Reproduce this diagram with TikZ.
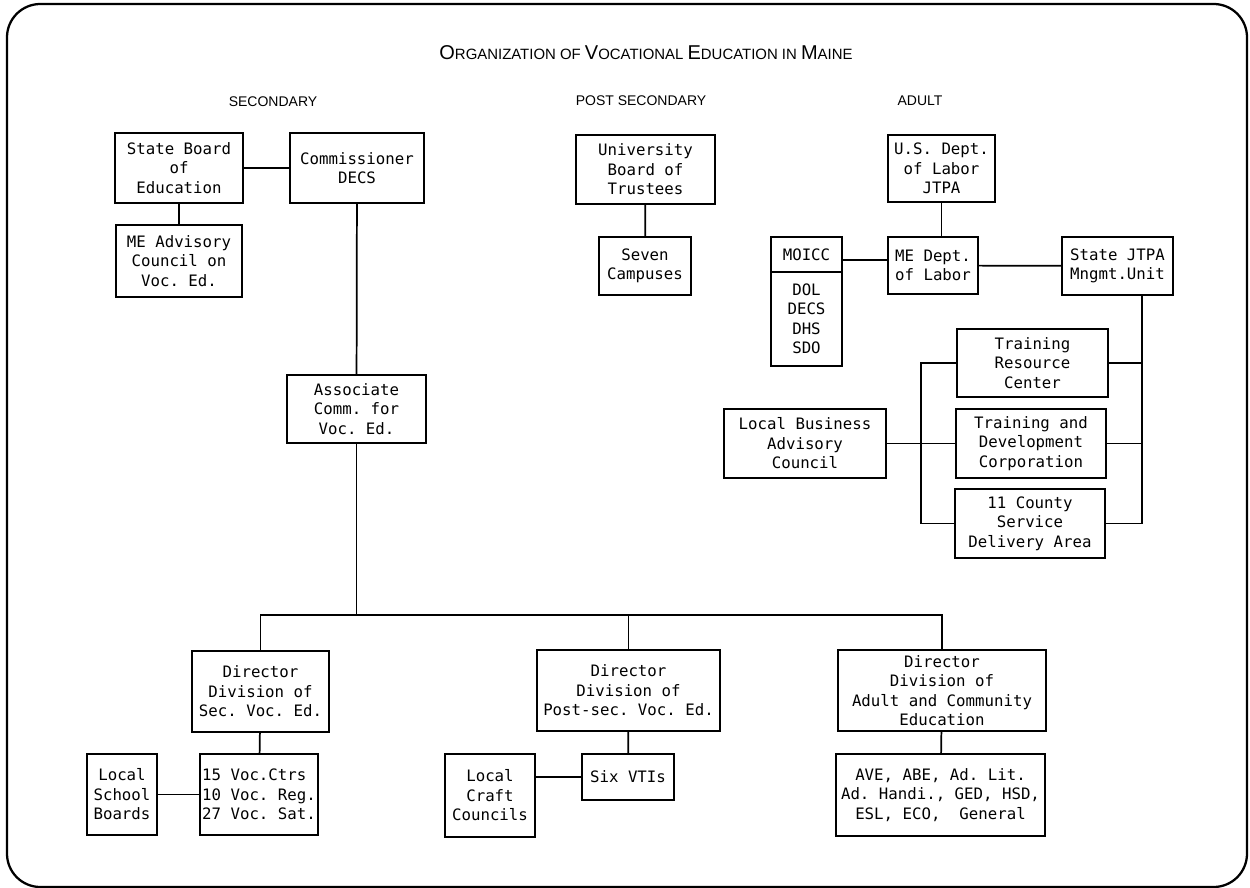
\documentclass[tikz,border=0pt]{standalone}
\usepackage{fontspec}
\setmonofont{DejaVu Sans Mono}
\newfontfamily\headfont{Liberation Sans}
\newcommand{\smc}[1]{{\fontsize{11.2}{12}\selectfont #1}}

\begin{document}
\begin{tikzpicture}[x=0.75pt,y=-0.75pt,
    box/.style={draw,line width=1.3pt,align=center,inner sep=0pt,
      font=\ttfamily\fontsize{11.8}{14.6}\selectfont},
    sz/.style 2 args={minimum width=#1*0.75pt,minimum height=#2*0.75pt},
    link/.style={line width=1.3pt},
    head/.style={font=\headfont\fontsize{10.5}{12}\selectfont}]
            \useasboundingbox (0,0) rectangle (1250,888);
            \draw[line width=1.7pt,rounded corners=25pt] (7,4) rectangle (1247,887);

            % Headings
            \node[head,font=\headfont\fontsize{15}{16}\selectfont] (title) at (646,53)
                {O\smc{RGANIZATION OF }V\smc{OCATIONAL }E\smc{DUCATION IN }M\smc{AINE}};
            \node[head] (hsec)   at (273,102) {SECONDARY};
            \node[head] (hpost)  at (641,101) {POST SECONDARY};
            \node[head] (hadult) at (920,101) {ADULT};

            % Secondary
            \node[box,sz={128}{70}]  (sbe) at (179,168)   {State Board\\of\\Education};
            \node[box,sz={134}{70}]  (com) at (357,168)   {Commissioner\\DECS};
            \node[box,sz={126}{72}]  (mac) at (179,261)   {ME Advisory\\Council on\\Voc. Ed.};
            \node[box,sz={139}{68}]  (acv) at (356.5,409) {Associate\\Comm. for\\Voc. Ed.};

            % Post secondary
            \node[box,sz={139}{69}]  (ubt) at (645.5,169.5) {University\\Board of\\Trustees};
            \node[box,sz={92}{58}]   (sc)  at (645,266)     {Seven\\Campuses};

            % Adult
            \node[box,sz={107}{67}]  (usdol) at (941.5,168.5) {U.S. Dept.\\of Labor\\JTPA};
            \node[box,sz={90}{57}]   (medol) at (933,265.5)   {ME Dept.\\of Labor};
            \node[box,sz={71}{35}]   (mhead) at (806.5,254.5) {MOICC};
            \node[box,sz={71}{94}]   (mbody) at (806.5,319)   {DOL\\DECS\\DHS\\SDO};
            \node[box,sz={111}{58}]  (jtpa)  at (1117.5,266)  {State JTPA\\Mngmt.Unit};
            \node[box,sz={151}{68}]  (trc)   at (1032.5,363)  {Training\\Resource\\Center};
            \node[box,sz={150}{69}]  (tdc)   at (1031,443.5)  {Training and\\Development\\Corporation};
            \node[box,sz={150}{69}]  (csda)  at (1030,523.5)  {11 County\\Service\\Delivery Area};
            \node[box,sz={162}{69}]  (lbac)  at (805,443.5)   {Local Business\\Advisory\\Council};

            % Divisions
            \node[box,sz={137}{81}]  (dsv) at (260.5,691.5) {Director\\Division of\\Sec. Voc. Ed.};
            \node[box,sz={118}{81},align=left] (vc) at (259,794.5) {15 Voc.Ctrs\\10 Voc. Reg.\\27 Voc. Sat.};
            \node[box,sz={70}{81}]   (lsb) at (122,794.5)   {Local\\School\\Boards};
            \node[box,sz={183}{81}]  (dpv) at (628.5,690.5) {Director\\Division of\\Post-sec. Voc. Ed.};
            \node[box,sz={92}{46}]   (vti) at (628,777)     {Six VTIs};
            \node[box,sz={90}{83}]   (lcc) at (490,795.5)   {Local\\Craft\\Councils};
            \node[box,sz={208}{81}]  (dac) at (942,690.5)   {Director\\Division of\\Adult and Community\\Education};
            \node[box,sz={209}{82}]  (ave) at (940.5,795)   {AVE, ABE, Ad. Lit.\\Ad. Handi., GED, HSD,\\ESL, ECO,~~General};

            \draw[link] (sbe) -- (com);
            \draw[link] (sbe) -- (mac);
            \draw[link] (com) -- (acv);
            \coordinate (bus) at (356.5,615);
            \draw[link] (acv) -- (bus);
            \draw[link] (dsv.north) |- (bus) -| (dac.north);
            \draw[link] (dpv.north) -- (dpv.north |- bus);
            \draw[link] (dsv) -- (vc);
            \draw[link] (lsb.east) -- (lsb.east -| vc.west);
            \draw[link] (dpv) -- (vti);
            \draw[link] (vti.west) -- (vti.west -| lcc.east);
            \draw[link] (dac) -- (ave);
            \draw[link] (ubt) -- (sc);
            \draw[link] (usdol.south) -- (usdol.south |- medol.north);
            \draw[link] ([yshift=4pt]medol.west) -- ([yshift=4pt]medol.west -| mhead.east);
            \draw[link] (medol) -- (jtpa);
            \coordinate (rbus) at (1142,295);
            \draw[link] (rbus) |- (csda.east);
            \draw[link] (trc.east) -- (trc.east -| rbus);
            \draw[link] (tdc.east) -- (tdc.east -| rbus);
            \coordinate (lbus) at (921,363);
            \draw[link] (trc.west) -- (lbus) |- (csda.west);
            \draw[link] (lbac) -- (tdc);
    \end{tikzpicture}
\end{document}
